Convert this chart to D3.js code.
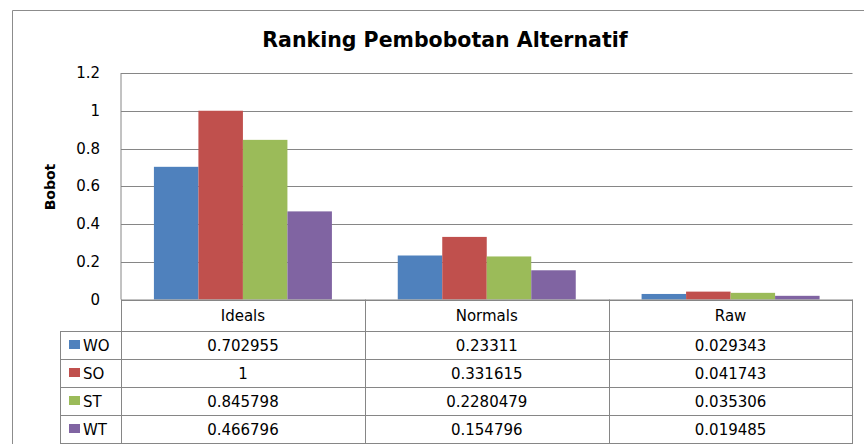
<!DOCTYPE html>
<html>
<head>
<meta charset="utf-8">
<script src="https://cdn.jsdelivr.net/npm/d3@7"></script>
<style>
  body { margin: 0; background: #fff; }
  svg { display: block; font-family: "DejaVu Sans", sans-serif; }
</style>
</head>
<body>
<div id="chart"></div>
<script>
var categories = ["Ideals", "Normals", "Raw"];
var seriesNames = ["WO", "SO", "ST", "WT"];
var seriesValues = [
  [0.702955, 0.23311, 0.029343],
  [1, 0.331615, 0.041743],
  [0.845798, 0.2280479, 0.035306],
  [0.466796, 0.154796, 0.019485]
];
var tableLabels = [
  ["0.702955", "0.23311", "0.029343"],
  ["1", "0.331615", "0.041743"],
  ["0.845798", "0.2280479", "0.035306"],
  ["0.466796", "0.154796", "0.019485"]
];
var yTicks = [0, 0.2, 0.4, 0.6, 0.8, 1, 1.2];
var colors = ["#4F81BD", "#C0504D", "#9BBB59", "#8064A2"];

var width = 864;
var height = 444;
var plotLeft = 121, plotRight = 852.5, plotTop = 73, plotBottom = 299.5;
var headerH = 31.5, rowH = 28;
var legendLeft = 60.5;
var gridColor = "#868686";

var svg = d3.select("#chart").append("svg")
  .attr("width", width)
  .attr("height", height);

// outer chart border (runs off the right/bottom edge)
svg.append("path")
  .attr("d", "M12.5,460 V10.5 H900")
  .attr("fill", "none")
  .attr("stroke", "#8c8c8c");

svg.append("text")
  .attr("x", 445)
  .attr("y", 47)
  .attr("text-anchor", "middle")
  .attr("font-weight", "bold")
  .attr("font-size", "20.5px")
  .attr("fill", "#000")
  .text("Ranking Pembobotan Alternatif");

var x0 = d3.scaleBand()
  .domain(categories)
  .range([plotLeft, plotRight]);

var gap = x0.bandwidth() * 0.135;
var x1 = d3.scaleBand()
  .domain(seriesNames)
  .range([gap, x0.bandwidth() - gap]);

var y = d3.scaleLinear()
  .domain([0, 1.2])
  .range([plotBottom, plotTop]);

// gridlines
svg.append("g")
  .selectAll("line")
  .data(yTicks).enter()
  .append("line")
  .attr("x1", plotLeft)
  .attr("x2", plotRight)
  .attr("y1", d => Math.round(y(d)) + 0.5)
  .attr("y2", d => Math.round(y(d)) + 0.5)
  .attr("stroke", gridColor);

svg.append("line")
  .attr("x1", plotLeft).attr("x2", plotLeft)
  .attr("y1", plotTop).attr("y2", plotBottom)
  .attr("stroke", gridColor);

// y tick labels
svg.append("g")
  .selectAll("text")
  .data(yTicks).enter()
  .append("text")
  .attr("x", 100)
  .attr("y", d => y(d) + 5)
  .attr("text-anchor", "end")
  .attr("font-size", "15px")
  .attr("fill", "#000")
  .text(d => d3.format("~g")(d));

svg.append("text")
  .attr("transform", "translate(55,187) rotate(-90)")
  .attr("text-anchor", "middle")
  .attr("font-weight", "bold")
  .attr("font-size", "14px")
  .attr("fill", "#000")
  .text("Bobot");

// bars
svg.append("g")
  .selectAll("g")
  .data(seriesNames).enter()
  .append("g")
  .attr("fill", (d, i) => colors[i])
  .selectAll("rect")
  .data((d, i) => seriesValues[i].map((v, j) => ({s: d, c: categories[j], v: v})))
  .enter()
  .append("rect")
  .attr("x", d => x0(d.c) + x1(d.s))
  .attr("width", x1.bandwidth())
  .attr("y", d => y(d.v))
  .attr("height", d => plotBottom - y(d.v));

// data table
var table = svg.append("g")
  .attr("stroke", gridColor)
  .attr("fill", "none");

var tableBottom = plotBottom + headerH + rowH * seriesNames.length;

// horizontal lines
table.append("line")
  .attr("x1", plotLeft).attr("x2", plotRight)
  .attr("y1", plotBottom + 0.5).attr("y2", plotBottom + 0.5);
d3.range(seriesNames.length + 1).forEach(function(r) {
  var yy = Math.round(plotBottom + headerH + r * rowH) + 0.5;
  table.append("line")
    .attr("x1", legendLeft).attr("x2", plotRight)
    .attr("y1", yy).attr("y2", yy);
});

// vertical lines
table.append("line")
  .attr("x1", legendLeft).attr("x2", legendLeft)
  .attr("y1", plotBottom + headerH).attr("y2", tableBottom + 1);
categories.forEach(function(c) {
  table.append("line")
    .attr("x1", Math.round(x0(c)) + 0.5).attr("x2", Math.round(x0(c)) + 0.5)
    .attr("y1", plotBottom).attr("y2", tableBottom + 1);
});
table.append("line")
  .attr("x1", plotRight).attr("x2", plotRight)
  .attr("y1", plotBottom).attr("y2", tableBottom + 1);

// header labels
svg.append("g")
  .selectAll("text")
  .data(categories).enter()
  .append("text")
  .attr("x", d => x0(d) + x0.bandwidth() / 2)
  .attr("y", plotBottom + 21)
  .attr("text-anchor", "middle")
  .attr("font-size", "15px")
  .attr("fill", "#000")
  .text(d => d);

// legend keys + row values
var rows = svg.append("g")
  .selectAll("g")
  .data(seriesNames).enter()
  .append("g")
  .attr("transform", (d, i) => `translate(0, ${plotBottom + headerH + i * rowH})`);

rows.append("rect")
  .attr("x", 69)
  .attr("y", 9)
  .attr("width", 11)
  .attr("height", 9)
  .attr("fill", (d, i) => colors[i]);

rows.append("text")
  .attr("x", 83)
  .attr("y", 20)
  .attr("font-size", "15px")
  .attr("fill", "#000")
  .text(d => d);

rows.selectAll("text.val")
  .data((d, i) => tableLabels[i].map((t, j) => ({t: t, c: categories[j]})))
  .enter()
  .append("text")
  .attr("class", "val")
  .attr("x", d => x0(d.c) + x0.bandwidth() / 2)
  .attr("y", 20)
  .attr("text-anchor", "middle")
  .attr("font-size", "15px")
  .attr("fill", "#000")
  .text(d => d.t);
</script>
</body>
</html>
